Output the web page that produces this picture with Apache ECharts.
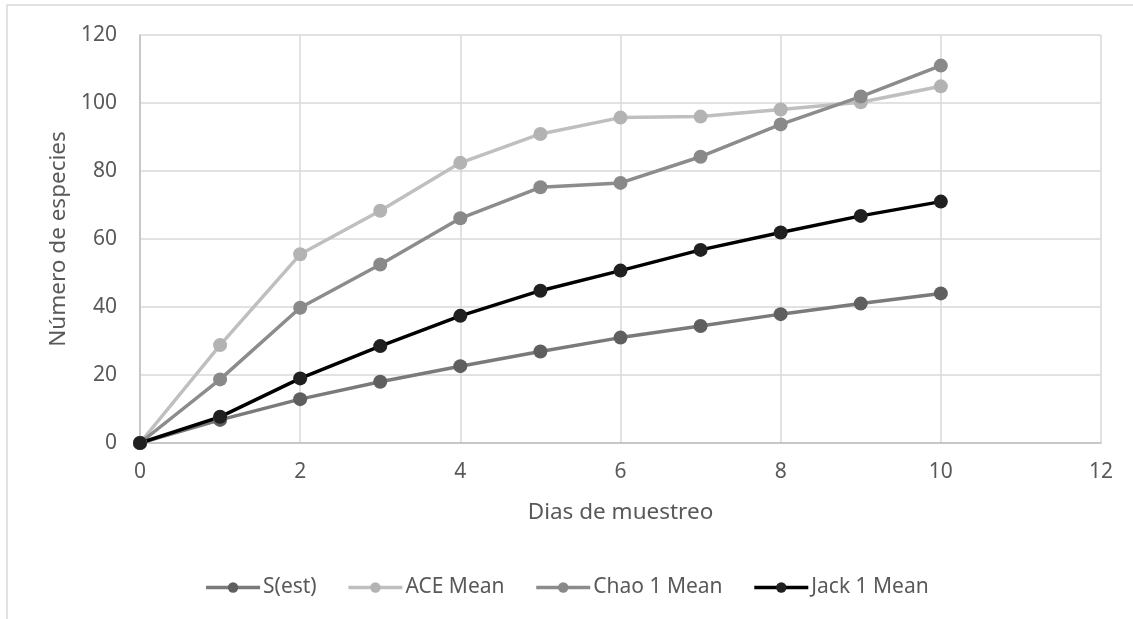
<!DOCTYPE html>
<html><head><meta charset="utf-8">
<script src="https://cdn.jsdelivr.net/npm/echarts@6/dist/echarts.min.js"></script>
<style>html,body{margin:0;padding:0;background:#fff}#c{width:1133px;height:619px}</style>
</head><body><div id="c"></div>
<script>
const days = [0,1,2,3,4,5,6,7,8,9,10];
const sEst = [0,6.8,12.9,18.0,22.6,26.9,31.0,34.4,37.9,41.0,44.0];
const aceMean = [0,28.8,55.5,68.3,82.4,90.9,95.7,96.0,98.1,100.2,104.9];
const chao1Mean = [0,18.7,39.8,52.5,66.1,75.2,76.5,84.2,93.7,101.9,111.0];
const jack1Mean = [0,7.7,19.0,28.5,37.4,44.8,50.7,56.8,61.9,66.8,71.0];
const seriesNames = ['S(est)','ACE Mean','Chao 1 Mean','Jack 1 Mean'];
const xTitle = 'Dias de muestreo';
const yTitle = 'Número de especies';

const font = '"Noto Sans", "Open Sans", sans-serif';
function pairs(arr){ return days.map((d,i)=>[d,arr[i]]); }
function mk(name, data, line, mark){
  return {name, type:'line', data:pairs(data), symbol:'circle', symbolSize:14,
    lineStyle:{color:line, width:3.5}, itemStyle:{color:mark}, emphasis:{disabled:true}};
}
const chart = echarts.init(document.getElementById('c'), null, {renderer:'canvas'});
chart.setOption({
  animation:false,
  backgroundColor:'#fff',
  graphic:[{type:'rect', shape:{x:7,y:5,width:1140,height:630}, style:{fill:'none', stroke:'#d9d9d9', lineWidth:1.5}, silent:true, z:-1}],
  grid:{left:140, right:32, top:35, bottom:176},
  xAxis:{type:'value', min:0, max:12, interval:2,
    name:xTitle, nameLocation:'middle', nameGap:58,
    nameTextStyle:{color:'#595959', fontSize:22.5, fontFamily:font},
    axisLine:{show:true, lineStyle:{color:'#bfbfbf', width:1.5}},
    axisTick:{show:false},
    axisLabel:{color:'#595959', fontSize:21, fontFamily:font, margin:19},
    splitLine:{show:true, lineStyle:{color:'#d9d9d9', width:1.5}}},
  yAxis:{type:'value', min:0, max:120, interval:20,
    name:yTitle, nameLocation:'middle', nameGap:70,
    nameTextStyle:{color:'#595959', fontSize:22.5, fontFamily:font},
    axisLine:{show:true, lineStyle:{color:'#bfbfbf', width:1.5}},
    axisTick:{show:false},
    axisLabel:{color:'#595959', fontSize:21, fontFamily:font, margin:23},
    splitLine:{show:true, lineStyle:{color:'#d9d9d9', width:1.5}}},
  legend:{top:572, left:'center', itemWidth:54, itemHeight:13, itemGap:30,
    data:seriesNames,
    lineStyle:{width:3.5},
    textStyle:{color:'#595959', fontSize:21, fontFamily:font, padding:[0,0,0,-2]}},
  series:[
    mk(seriesNames[0], sEst, '#7a7a7a', '#5f5f5f'),
    mk(seriesNames[1], aceMean, '#bfbfbf', '#b3b3b3'),
    mk(seriesNames[2], chao1Mean, '#8c8c8c', '#898989'),
    mk(seriesNames[3], jack1Mean, '#000000', '#202020')
  ]
});
</script></body></html>
